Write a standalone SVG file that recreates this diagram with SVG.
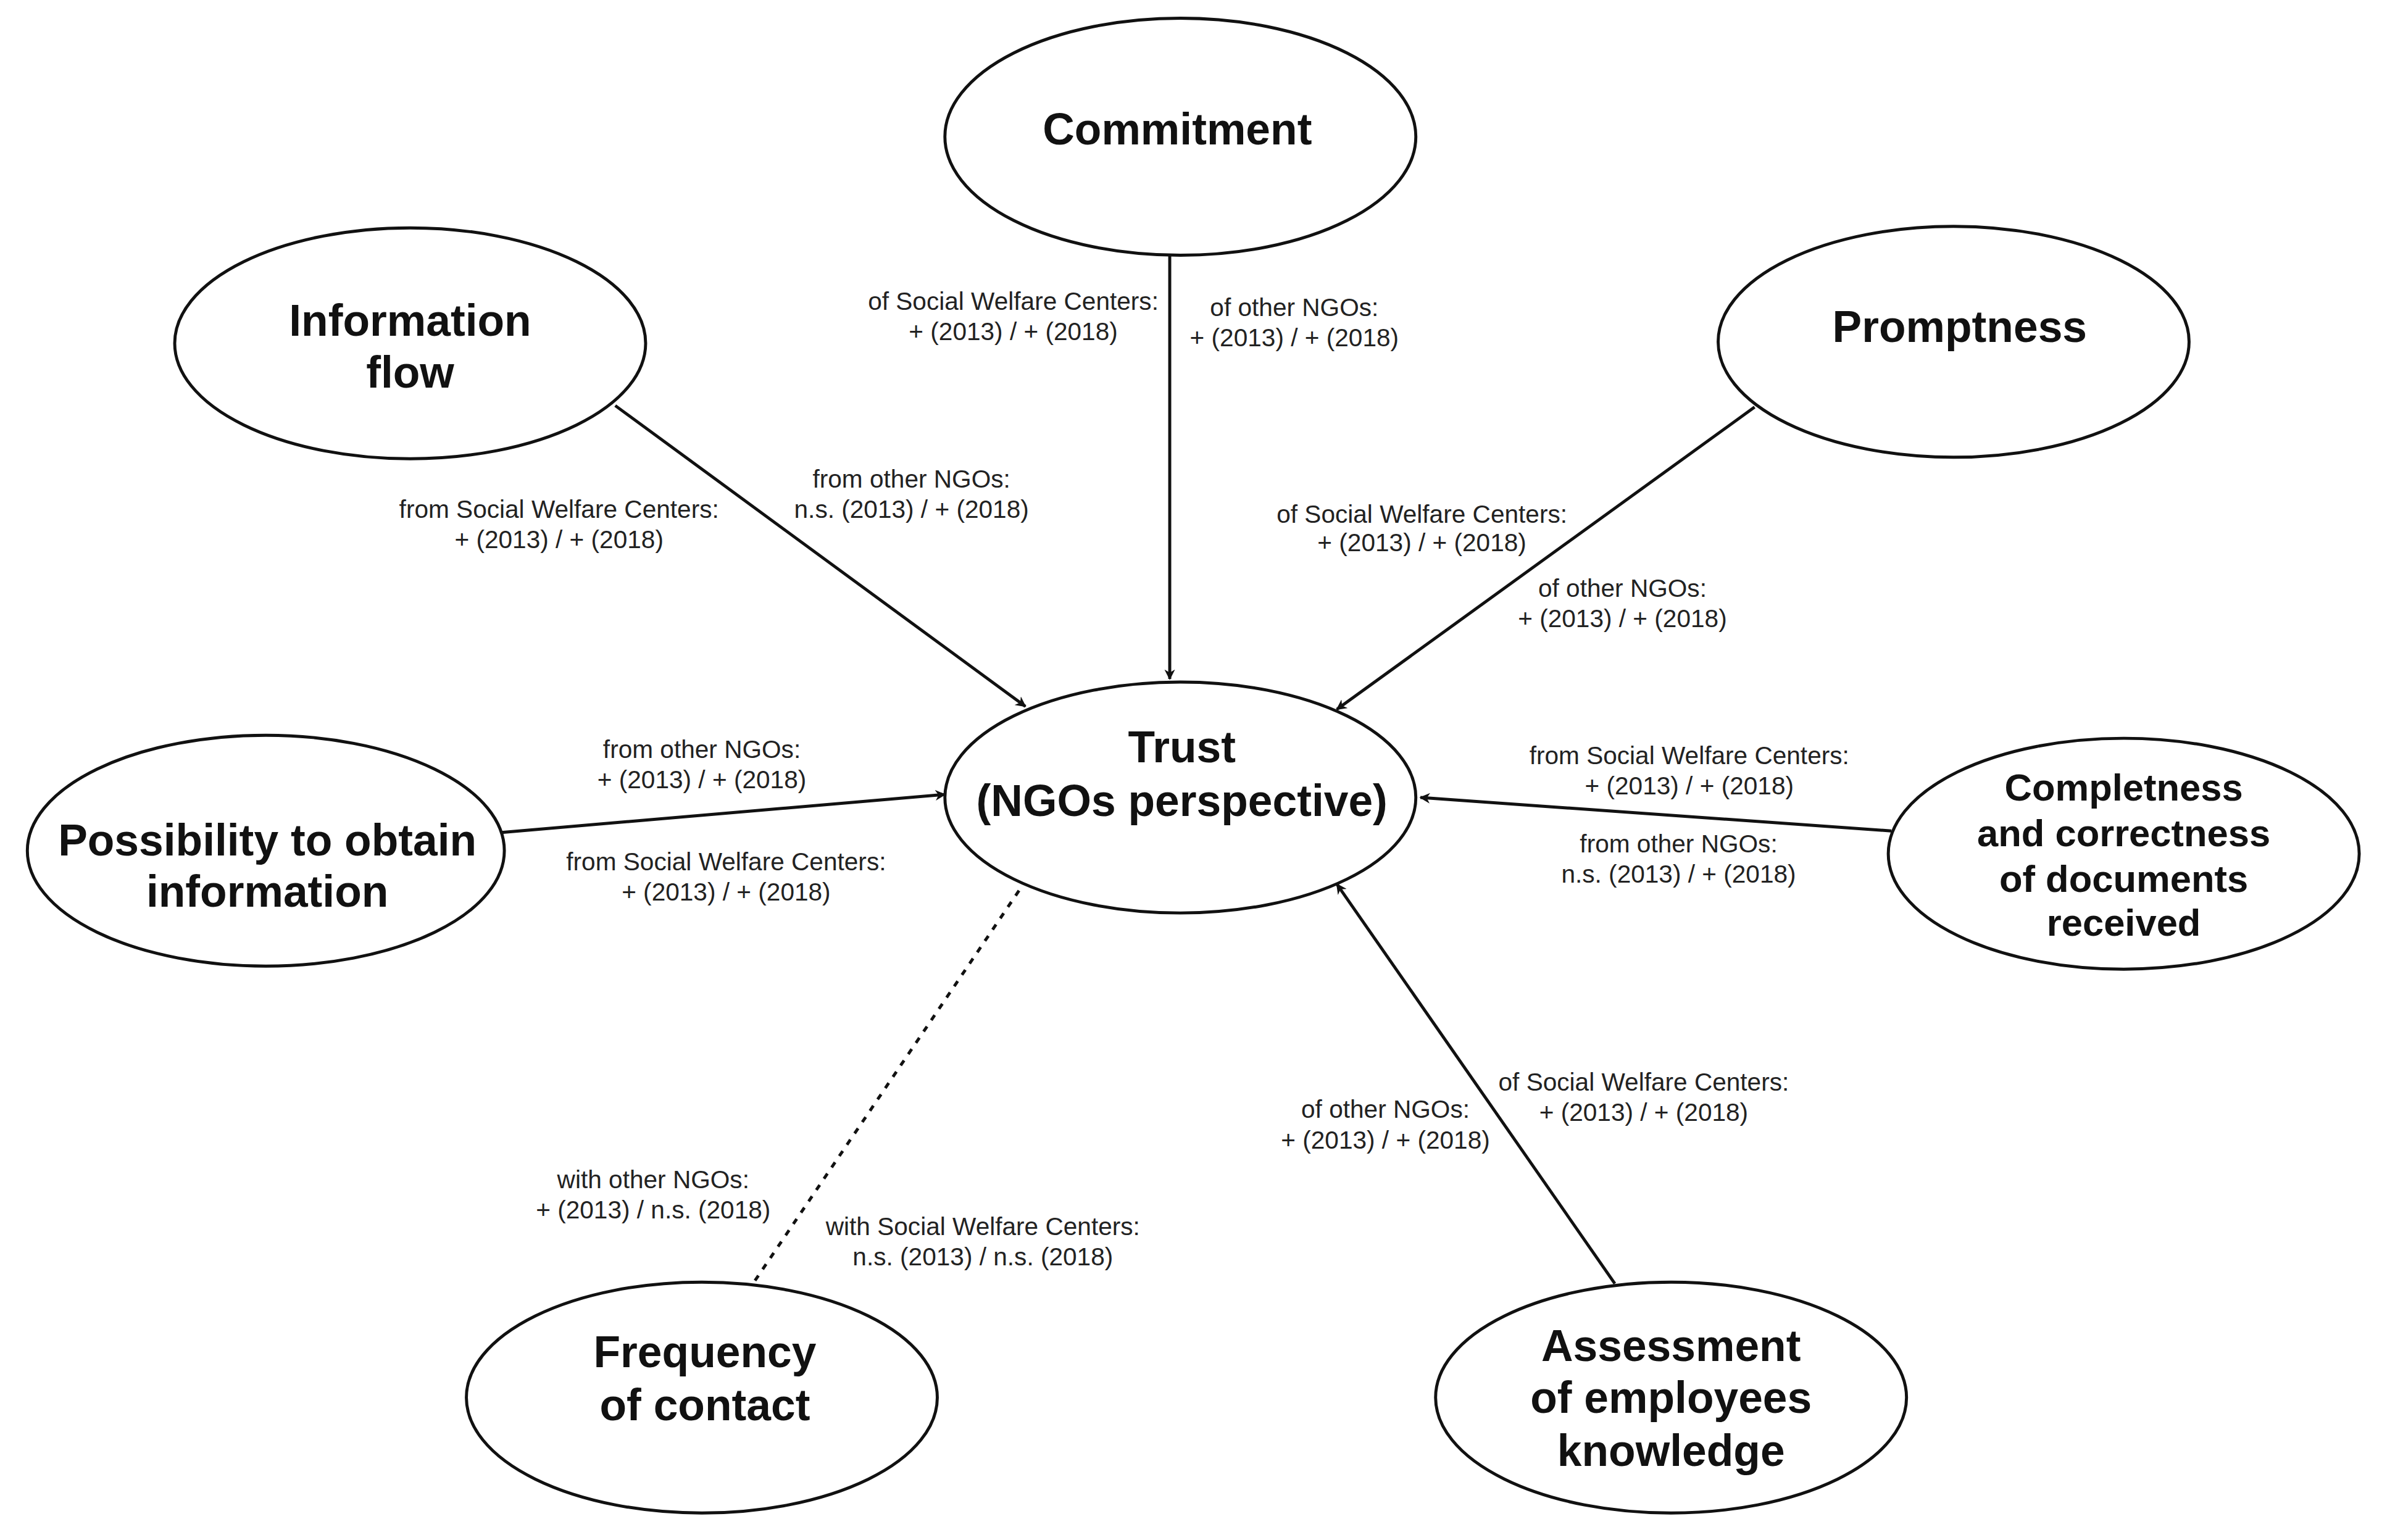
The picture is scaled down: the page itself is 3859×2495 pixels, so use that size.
<svg xmlns="http://www.w3.org/2000/svg" width="3859" height="2495" viewBox="0 0 3859 2495">
<defs>
<marker id="ah" viewBox="0 0 10 10" refX="9" refY="5" markerWidth="7" markerHeight="7" orient="auto" markerUnits="userSpaceOnUse"><path d="M0,0 L10,5 L0,10 L3,5 z" fill="#111"/></marker>
<style>
ellipse{fill:#fff;stroke:#111;stroke-width:2}
.n{font-family:"Liberation Sans",Arial,sans-serif;font-weight:bold;font-size:29px;text-anchor:middle;fill:#111}
.n2{font-family:"Liberation Sans",Arial,sans-serif;font-weight:bold;font-size:25px;text-anchor:middle;fill:#111}
.l{font-family:"Liberation Sans",Arial,sans-serif;font-size:16.5px;text-anchor:middle;fill:#222}
.c{stroke:#111;stroke-width:2;fill:none;marker-end:url(#ah)}
</style>
</defs>
<rect width="3859" height="2495" fill="#fff"/>
<g transform="scale(2.4611)">
<g id="connectors">
<line class="c" x1="770" y1="168" x2="770" y2="447"/>
<line class="c" x1="405" y1="267" x2="675" y2="465"/>
<line class="c" x1="1155" y1="268" x2="880" y2="467"/>
<line class="c" x1="330" y1="548" x2="622" y2="523"/>
<line class="c" x1="1245" y1="547" x2="935" y2="525"/>
<line class="c" x1="1063" y1="845" x2="880" y2="582"/>
<line x1="497" y1="843" x2="673" y2="583" stroke="#111" stroke-width="2" stroke-dasharray="4,5"/>
</g>
<g id="labels">
<text class="l" x="667" y="204">of Social Welfare Centers:</text><text class="l" x="667" y="224">+ (2013) / + (2018)</text>
<text class="l" x="852" y="208">of other NGOs:</text><text class="l" x="852" y="228">+ (2013) / + (2018)</text>
<text class="l" x="600" y="321">from other NGOs:</text><text class="l" x="600" y="341">n.s. (2013) / + (2018)</text>
<text class="l" x="368" y="341">from Social Welfare Centers:</text><text class="l" x="368" y="361">+ (2013) / + (2018)</text>
<text class="l" x="936" y="344">of Social Welfare Centers:</text><text class="l" x="936" y="363">+ (2013) / + (2018)</text>
<text class="l" x="1068" y="393">of other NGOs:</text><text class="l" x="1068" y="413">+ (2013) / + (2018)</text>
<text class="l" x="462" y="499">from other NGOs:</text><text class="l" x="462" y="519">+ (2013) / + (2018)</text>
<text class="l" x="478" y="573">from Social Welfare Centers:</text><text class="l" x="478" y="593">+ (2013) / + (2018)</text>
<text class="l" x="1112" y="503">from Social Welfare Centers:</text><text class="l" x="1112" y="523">+ (2013) / + (2018)</text>
<text class="l" x="1105" y="561">from other NGOs:</text><text class="l" x="1105" y="581">n.s. (2013) / + (2018)</text>
<text class="l" x="1082" y="718">of Social Welfare Centers:</text><text class="l" x="1082" y="738">+ (2013) / + (2018)</text>
<text class="l" x="912" y="736">of other NGOs:</text><text class="l" x="912" y="756">+ (2013) / + (2018)</text>
<text class="l" x="430" y="782">with other NGOs:</text><text class="l" x="430" y="802">+ (2013) / n.s. (2018)</text>
<text class="l" x="647" y="813">with Social Welfare Centers:</text><text class="l" x="647" y="833">n.s. (2013) / n.s. (2018)</text>
</g>
<g id="commitment"><ellipse cx="777" cy="90" rx="155" ry="78"/><text class="n" x="775" y="95">Commitment</text></g>
<g id="infoflow"><ellipse cx="270" cy="226" rx="155" ry="76"/><text class="n" x="270" y="221">Information</text><text class="n" x="270" y="255">flow</text></g>
<g id="promptness"><ellipse cx="1286" cy="225" rx="155" ry="76"/><text class="n" x="1290" y="225">Promptness</text></g>
<g id="trust"><ellipse cx="777" cy="525" rx="155" ry="76"/><text class="n" x="778" y="502">Trust</text><text class="n" x="778" y="537">(NGOs perspective)</text></g>
<g id="possibility"><ellipse cx="175" cy="560" rx="157" ry="76"/><text class="n" x="176" y="563">Possibility to obtain</text><text class="n" x="176" y="597">information</text></g>
<g id="completness"><ellipse cx="1398" cy="562" rx="155" ry="76"/><text class="n2" x="1398" y="527">Completness</text><text class="n2" x="1398" y="557">and correctness</text><text class="n2" x="1398" y="587">of documents</text><text class="n2" x="1398" y="616">received</text></g>
<g id="frequency"><ellipse cx="462" cy="920" rx="155" ry="76"/><text class="n" x="464" y="900">Frequency</text><text class="n" x="464" y="935">of contact</text></g>
<g id="assessment"><ellipse cx="1100" cy="920" rx="155" ry="76"/><text class="n" x="1100" y="896">Assessment</text><text class="n" x="1100" y="930">of employees</text><text class="n" x="1100" y="965">knowledge</text></g>
</g>
</svg>
